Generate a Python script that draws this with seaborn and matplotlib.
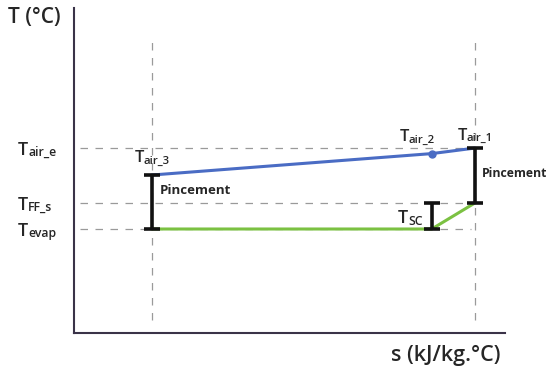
import pandas as pd
import matplotlib.pyplot as plt
import matplotlib.transforms as mtrans
import seaborn as sns

# Positions on the (unitless) entropy and temperature axes
s_points = [1.8, 8.3, 9.3]          # air_3 / evap end, air_2 / Tsc, air_1
t_air = [4.86, 5.52, 5.69]          # air line: Tair_3 -> Tair_2 -> Tair_1
t_ref = [3.2, 3.2, 4.0]             # refrigerant: Tevap ... Tevap -> TFF_s
t_levels = [5.69, 4.0, 3.2]         # horizontal reference levels
level_subs = ["air_e", "FF_s", "evap"]
point_subs = ["air_3", "air_2", "air_1"]

sns.set_theme(style="white")
plt.rcParams["font.family"] = ["Open Sans", "DejaVu Sans"]

fig = plt.figure(figsize=(5.51, 3.73), dpi=100)
ax = fig.add_axes([74 / 551, 40 / 373, 431 / 551, 325 / 373])
ax.set_xlim(0, 10)
ax.set_ylim(0, 10)


def t_label(x, y, sub, size=13, trans=None, ha_shift=0):
    # big "T" followed by a small subscript sitting just under the baseline
    trans = trans or ax.transData
    ax.text(x, y, "T", fontsize=size, fontweight="semibold", va="baseline",
            transform=mtrans.offset_copy(trans, fig=fig, x=ha_shift, y=0, units="points"), clip_on=False)
    ax.text(x, y, sub, fontsize=size * 0.68, fontweight="semibold", va="baseline",
            transform=mtrans.offset_copy(trans, fig=fig, x=ha_shift + size * 0.56, y=-1.2, units="points"),
            clip_on=False)


grey = "#9a9a9a"
# reference dashed lines
for s in [s_points[0], s_points[2]]:
    ax.plot([s, s], [0.4, 9.0], ls=(0, (6, 6)), color=grey, lw=0.9)
for t in t_levels:
    ax.plot([0.15, 9.2], [t, t], ls=(0, (6, 6)), color=grey, lw=0.9)

air = pd.DataFrame({"s": s_points, "T": t_air})
ref = pd.DataFrame({"s": s_points, "T": t_ref})
sns.lineplot(data=air, x="s", y="T", sort=False, color="#4a6cc4", lw=2.2, ax=ax)
sns.lineplot(data=ref, x="s", y="T", sort=False, color="#7bc142", lw=2.2, ax=ax)
ax.plot(s_points[1], t_air[1], "o", color="#4a6cc4", ms=5)

# pinch bars
bars = [(s_points[0], t_ref[0], t_air[0]), (s_points[2], t_ref[2], t_air[2]), (s_points[1], t_ref[0], t_ref[2])]
for s, lo, hi in bars:
    ax.errorbar([s], [(lo + hi) / 2], yerr=[(hi - lo) / 2], fmt="none",
                ecolor="#111111", elinewidth=2.6, capsize=6, capthick=2.6)

ax.text(s_points[0] + 0.2, 4.4, "Pincement", fontsize=9.5, fontweight="bold", va="center")
ax.text(s_points[2] + 0.17, 4.9, "Pincement", fontsize=8.8, fontweight="bold", va="center", clip_on=False)
t_label(7.52, 3.38, "SC", size=13)
t_label(s_points[0] - 0.4, 5.25, point_subs[0], size=12)
t_label(s_points[1] - 0.75, 5.9, point_subs[1], size=12)
t_label(s_points[2] - 0.4, 5.95, point_subs[2], size=12)

# level labels on the left, outside the axes
ylab_trans = mtrans.blended_transform_factory(fig.transFigure, ax.transData)
for t, sub in zip(t_levels, level_subs):
    t_label(18 / 551, t - 0.2, sub, size=13, trans=ylab_trans)

ax.set_xticks([])
ax.set_yticks([])
ax.set_xlabel("")
ax.set_ylabel("")
fig.text(8 / 551, 1 - 18 / 373, "T (°C)", fontsize=15, fontweight="semibold", va="center")
fig.text(391 / 551, 1 - 355 / 373, "s (kJ/kg.°C)", fontsize=15.5, fontweight="semibold", va="center")

sns.despine(ax=ax)
for side in ["left", "bottom"]:
    ax.spines[side].set_color("#3a3348")
    ax.spines[side].set_linewidth(1.5)

plt.savefig("out.png", dpi=100)
